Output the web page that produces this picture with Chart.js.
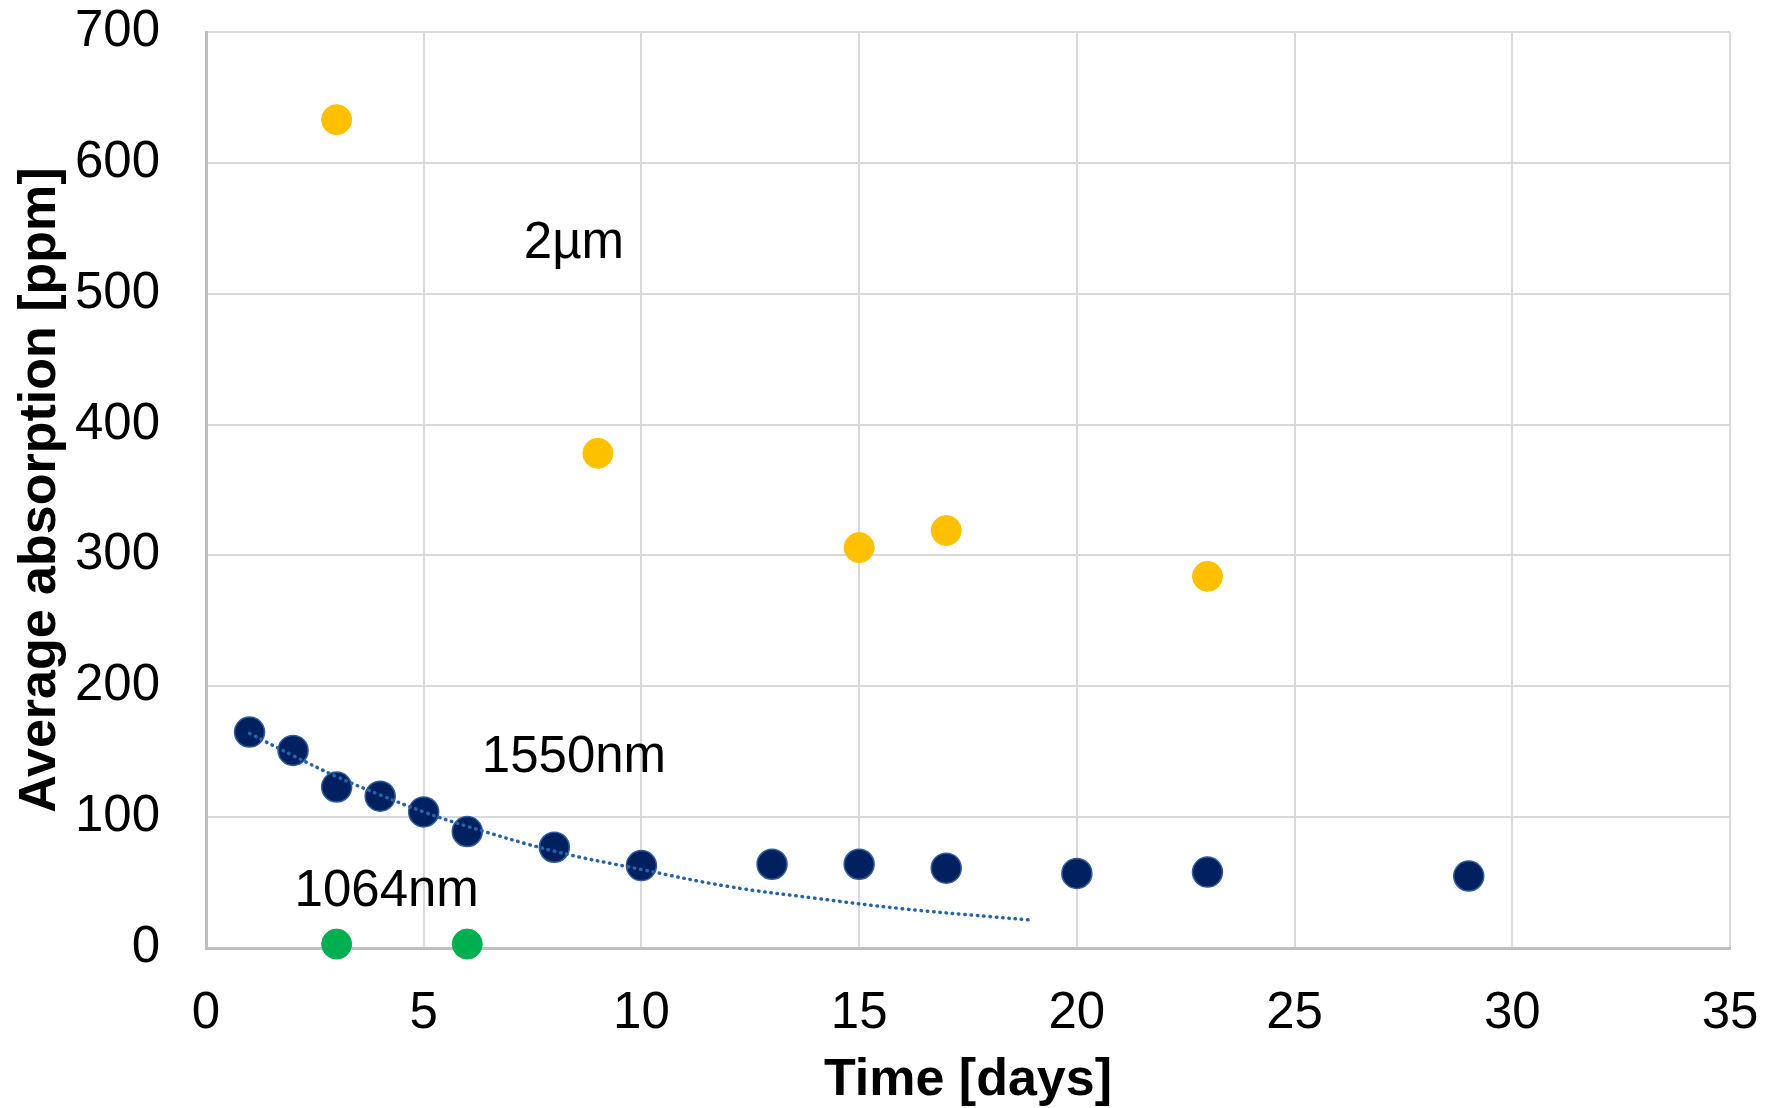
<!DOCTYPE html>
<html>
<head>
<meta charset="utf-8">
<script src="https://cdn.jsdelivr.net/npm/chart.js@4"></script>
<style>
html,body{margin:0;padding:0;background:#fff;}
#wrap{width:1773px;height:1108px;}
</style>
</head>
<body>
<div id="wrap"><canvas id="c" width="1773" height="1108"></canvas></div>
<script>
// ---- data ----
const xTicks = [0, 5, 10, 15, 20, 25, 30, 35];
const yTicks = [0, 100, 200, 300, 400, 500, 600, 700];

const days2um = [3, 9, 15, 17, 23];
const abs2um  = [633, 378, 306, 319, 284];

const days1550 = [1, 2, 3, 4, 5, 6, 8, 10, 13, 15, 17, 20, 23, 29];
const abs1550  = [165, 151, 123, 116, 104, 89, 77, 63, 64, 64, 61, 57, 58, 55];

const days1064 = [3, 6];
const abs1064  = [3, 3];

// dotted trend line for 1550nm
const trendDays = [1, 2, 3, 4, 5, 6, 8, 10, 12, 14, 16, 18, 18.9];
const trendAbs  = [164, 147, 131, 117, 104, 93, 74, 60, 47, 38, 30, 24, 21.5];

const labelTexts = ["2µm", "1550nm", "1064nm"];
const labelX     = [8.45, 8.45, 4.15];
const labelY     = [538, 145, 43];

const toXY = (xs, ys) => xs.map((x, i) => ({x: x, y: ys[i]}));

const FONT = "'Liberation Sans', Arial, sans-serif";

const textPlugin = {
  id: 'seriesText',
  afterDatasetsDraw(chart) {
    const ctx = chart.ctx;
    const xs = chart.scales.x, ys = chart.scales.y;
    ctx.save();
    ctx.fillStyle = '#000';
    ctx.font = "51px " + FONT;
    ctx.textAlign = 'center';
    ctx.textBaseline = 'middle';
    labelTexts.forEach((t, i) => {
      ctx.fillText(t, xs.getPixelForValue(labelX[i]), ys.getPixelForValue(labelY[i]));
    });
    ctx.restore();
  }
};

new Chart(document.getElementById('c'), {
  type: 'scatter',
  data: {
    datasets: [
      {
        label: '1550nm trend',
        type: 'line',
        data: toXY(trendDays, trendAbs),
        borderColor: '#2464A8',
        borderWidth: 3.5,
        borderDash: [0.5, 5.8],
        borderCapStyle: 'round',
        pointRadius: 0,
        fill: false,
        tension: 0.4,
        order: 0
      },
      {
        label: '2µm',
        data: toXY(days2um, abs2um),
        backgroundColor: '#FFC000',
        borderColor: '#FFC000',
        borderWidth: 1,
        pointRadius: 15,
        clip: false,
        order: 1
      },
      {
        label: '1550nm',
        data: toXY(days1550, abs1550),
        backgroundColor: '#002060',
        borderColor: '#2F5E9C',
        borderWidth: 1.5,
        pointRadius: 15,
        clip: false,
        order: 1
      },
      {
        label: '1064nm',
        data: toXY(days1064, abs1064),
        backgroundColor: '#00B050',
        borderColor: '#00B050',
        borderWidth: 1,
        pointRadius: 15,
        clip: false,
        order: 1
      }
    ]
  },
  options: {
    responsive: false,
    animation: false,
    events: [],
    layout: { padding: { left: 0, right: 43, top: 32, bottom: 0 } },
    plugins: {
      legend: { display: false },
      tooltip: { enabled: false }
    },
    scales: {
      x: {
        type: 'linear',
        min: 0, max: 35,
        afterBuildTicks: (s) => { s.ticks = xTicks.map(v => ({value: v})); },
        afterFit: (s) => { s.height = 160; s.paddingLeft = 0; s.paddingRight = 0; },
        grid: { color: '#D9D9D9', lineWidth: 2, drawTicks: false },
        border: { color: '#BFBFBF', width: 3 },
        ticks: { color: '#000', font: { family: FONT, size: 51 }, padding: 35 },
        title: {
          display: true, text: 'Time [days]', color: '#000',
          font: { family: FONT, size: 52, weight: 'bold', lineHeight: 1.05 },
          padding: { top: 0, bottom: 0 }
        }
      },
      y: {
        type: 'linear',
        min: 0, max: 700,
        afterBuildTicks: (s) => { s.ticks = yTicks.map(v => ({value: v})); },
        afterFit: (s) => { s.width = 206; s.paddingTop = 0; s.paddingBottom = 0; },
        grid: { color: '#D9D9D9', lineWidth: 2, drawTicks: false },
        border: { color: '#BFBFBF', width: 3 },
        ticks: { color: '#000', font: { family: FONT, size: 51 }, padding: 46 },
        title: {
          display: true, text: 'Average absorption [ppm]', color: '#000',
          font: { family: FONT, size: 52, weight: 'bold' },
          padding: { top: 9, bottom: 0 }
        }
      }
    }
  },
  plugins: [textPlugin]
});
</script>
</body>
</html>
